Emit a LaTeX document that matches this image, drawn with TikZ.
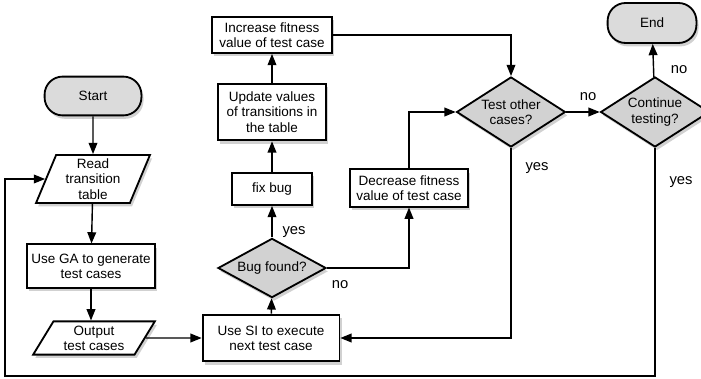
\documentclass[tikz,border=0pt]{standalone}
\usepackage{fontspec}
\setmainfont{Liberation Sans}
\usepackage{tikz}
\usetikzlibrary{shapes,shapes.geometric,arrows.meta,positioning,calc,shadows}

\tikzset{
  shade/.style={drop shadow={opacity=0.45,fill=gray!80,shadow xshift=1.5pt,shadow yshift=-2.4pt}},
  procbox/.style={draw,line width=1.3pt,fill=white,shade,align=center,inner sep=1pt,
    font=\fontsize{9.6}{10.8}\selectfont},
  termbox/.style={procbox,fill=gray!28,rounded corners=0.45cm},
  iobox/.style={procbox,trapezium,trapezium left angle=70,trapezium right angle=110,
    trapezium stretches=true},
  askbox/.style={procbox,diamond,fill=gray!35,aspect=1.6,inner sep=0pt},
  flow/.style={line width=1pt,-{Triangle[length=8pt,width=6.2pt]}},
  answer/.style={font=\fontsize{10.5}{12}\selectfont}
}

\begin{document}
\begin{tikzpicture}[x=0.025cm,y=-0.025cm]
\useasboundingbox (0,0) rectangle (701,379);
% ---------- left column
\node[termbox,minimum width=2.42cm,minimum height=0.97cm] (start) at (93,96){Start};
\node[iobox,minimum width=2.85cm,minimum height=1.2cm] (read) at (93,179){Read\\transition\\table};
\node[procbox,minimum width=3.18cm,minimum height=1.08cm] (ga) at (91,266){Use GA to generate\\test cases};
\node[iobox,trapezium left angle=60,trapezium right angle=120,minimum width=3.05cm,minimum height=0.83cm] (out) at (94,338){Output\\test cases};
% ---------- middle column
\node[procbox,minimum width=3.42cm,minimum height=1.17cm] (si) at (271,338){Use SI to execute\\next test case};
\node[askbox,minimum width=2.7cm,minimum height=1.48cm] (bug) at (272,268){Bug found?};
\node[procbox,minimum width=2cm,minimum height=0.8cm] (fix) at (272,189){fix bug};
\node[procbox,minimum width=2.7cm,minimum height=1.42cm] (upd) at (272,112){Update values\\of transitions in\\the table};
\node[procbox,minimum width=3cm,minimum height=0.9cm] (inc) at (272,35){Increase fitness\\value of test case};
\node[procbox,minimum width=2.95cm,minimum height=0.93cm] (dec) at (409,188){Decrease fitness\\value of test case};
% ---------- right column
\node[askbox,minimum width=2.72cm,minimum height=1.75cm] (test) at (511,112){Test other\\cases?};
\node[askbox,minimum width=2.72cm,minimum height=1.75cm] (cont) at (655,112){Continue\\testing?};
\node[termbox,minimum width=2.22cm,minimum height=1cm] (end) at (652,23){End};
\coordinate (loopbl) at (5,376);
% ---------- connectors
\draw[flow] (start) -- (read);
\draw[flow] (read) -- (ga);
\draw[flow] (ga) -- (ga |- out.north);
\draw[flow] (out.east) -- (si.west);
\draw[flow] (si) -- (bug);
\draw[flow] (bug) -- (fix);
\draw[flow] (fix) -- (upd);
\draw[flow] (upd) -- (inc);
\draw[flow] (inc.east) -| (test.north);
\draw[flow] (bug.east) -| (dec.south);
\draw[flow] (dec.north) |- (test.west);
\draw[flow] (test.east) -- (cont.west);
\draw[flow] (test.south) |- (si.east);
\draw[flow] (cont) -- (end);
\draw[flow] (cont.south) |- (loopbl) |- (read.west);
% ---------- answers
\node[answer] (yesbug) at (294,232){yes};
\node[answer] (nobug) at (340,285){no};
\node[answer] (notest) at (588,97){no};
\node[answer] (yestest) at (537,168){yes};
\node[answer] (nocont) at (679,70){no};
\node[answer] (yescont) at (681,182){yes};
\end{tikzpicture}
\end{document}
